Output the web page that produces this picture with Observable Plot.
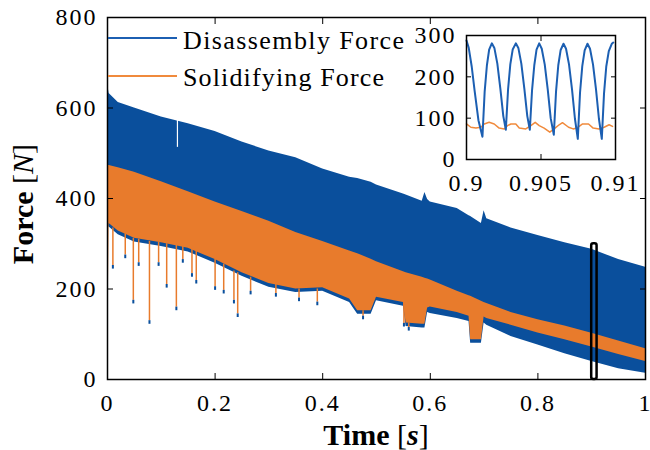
<!DOCTYPE html>
<html><head><meta charset="utf-8">
<script src="https://cdn.jsdelivr.net/npm/d3@7"></script>
<script src="https://cdn.jsdelivr.net/npm/@observablehq/plot@0.6"></script>
<style>
body{margin:0;background:#fff}
#wrap{position:relative;width:650px;height:450px;overflow:hidden}
#wrap > svg{position:absolute}
</style></head><body><div id="wrap"></div>
<script>
// ---------- main chart data ----------
const time     = [0, 0.003, 0.02, 0.05, 0.1, 0.15, 0.2, 0.25, 0.3, 0.35, 0.4, 0.45, 0.465, 0.49, 0.5, 0.55, 0.555, 0.585, 0.59, 0.595, 0.6, 0.65, 0.672, 0.675, 0.695, 0.7, 0.705, 0.75, 0.8, 0.85, 0.9, 0.95, 1.0];
const blueHi   = [655, 632, 612, 600, 580, 565, 548, 525, 505, 490, 465, 447, 444, 436, 430, 410, 408, 394, 413, 398, 392, 378, 362, 360, 345, 373, 355, 335, 318, 302, 288, 265, 248];
const blueLo   = [337, 337, 320, 304, 294, 282, 257, 228, 204, 192, 195, 170, 144, 144, 174, 162, 117, 114, 114, 148, 146, 135, 128, 80, 80, 125, 120, 95, 76, 57, 40, 24, 14];
const orangeHi = [473, 473, 468, 458, 437, 415, 392, 371, 350, 325, 305, 284, 278, 266, 260, 238, 236, 226, 224, 222, 220, 195, 185, 184, 173, 170, 168, 148, 132, 118, 102, 85, 68];
const orangeLo = [0, 345, 328, 312, 302, 290, 265, 236, 212, 200, 203, 178, 152, 152, 182, 170, 125, 122, 122, 158, 160, 148, 140, 88, 88, 138, 135, 120, 103, 88, 72, 55, 40];

// downward spikes of the solidifying force
const spikeT   = [0.010, 0.033, 0.048, 0.058, 0.078, 0.095, 0.110, 0.128, 0.140, 0.157, 0.165, 0.200, 0.216, 0.235, 0.242, 0.266, 0.313, 0.356, 0.390, 0.475, 0.551, 0.560];
const spikeTop = [335, 322, 312, 310, 305, 303, 300, 298, 295, 290, 288, 265, 255, 240, 236, 226, 210, 200, 200, 152, 170, 125];
const spikeTip = [252, 275, 175, 258, 130, 258, 210, 160, 265, 234, 219, 205, 197, 175, 145, 195, 190, 180, 171, 140, 124, 115];

// dip in the disassembly force top edge
const gapT = [0.130], gapLo = [513], gapHi = [600];

// zoom window marker
const zoomT0 = 0.9, zoomT1 = 0.91, zoomF0 = 0, zoomF1 = 300;

const xTicks = [0, 0.2, 0.4, 0.6, 0.8, 1];
const yTicks = [0, 200, 400, 600, 800];

// ---------- inset data ----------
const insetBlueT = [0.9, 0.90015, 0.90035, 0.90055, 0.9008, 0.90107,
  0.90122, 0.90137, 0.90152, 0.9017, 0.90187, 0.90207, 0.90227, 0.90247, 0.90264,
  0.90279, 0.90294, 0.9031, 0.90331, 0.90348, 0.90368, 0.90388, 0.90408, 0.90425,
  0.9044, 0.90455, 0.9047, 0.90488, 0.90505, 0.90525, 0.90545, 0.90565, 0.90586,
  0.90601, 0.90616, 0.90632, 0.90651, 0.90668, 0.90688, 0.90708, 0.90728, 0.90747,
  0.90762, 0.90777, 0.90793, 0.90812, 0.90829, 0.90849, 0.90869, 0.90889, 0.90908,
  0.90923, 0.90938, 0.90955, 0.90975, 0.90985];
const insetBlueF = [288, 270, 225, 165, 95, 55,
  165, 228, 266, 281, 270, 232, 172, 105, 72,
  170, 230, 266, 281, 270, 232, 172, 105, 72,
  168, 228, 266, 281, 268, 230, 170, 100, 60,
  165, 228, 265, 280, 268, 230, 170, 98, 50,
  162, 226, 264, 280, 268, 230, 170, 98, 50,
  160, 225, 262, 280, 283];
const insetOrangeT = [0.9, 0.90029, 0.90063, 0.90096, 0.90119, 0.90152, 0.90186, 0.90219, 0.90253, 0.90275, 0.90298, 0.90331, 0.90354, 0.90398, 0.90432, 0.90461, 0.90488, 0.90521, 0.90559, 0.90588, 0.90622, 0.90644, 0.90685, 0.90716, 0.90745, 0.90779, 0.90819, 0.9085, 0.9089, 0.90924, 0.90957, 0.9098];
const insetOrangeF = [86, 78, 76, 78, 86, 90, 86, 76, 74, 82, 86, 86, 76, 74, 82, 90, 82, 76, 66, 74, 84, 89, 78, 74, 77, 86, 86, 76, 74, 78, 84, 80];
const insetXTicks = [0.9, 0.905, 0.91];
const insetYTicks = [0, 100, 200, 300];

// ---------- styling ----------
const BLUE = "#0a4f9c", ORANGE = "#e87b2c";
const BLUE_L = "#1c5fb2", ORANGE_L = "#f08a3c";
const FONT = "'Liberation Serif', 'DejaVu Serif', serif";
const ax = {fontFamily: FONT, fontSize: 24, label: null};

const rows = time.map((t, i) => ({t, blueHi: blueHi[i], blueLo: blueLo[i], orangeHi: orangeHi[i], orangeLo: orangeLo[i]}));
const spikes = spikeT.map((t, i) => ({t, top: spikeTop[i], tip: spikeTip[i]}));
const gaps = gapT.map((t, i) => ({t, lo: gapLo[i], hi: gapHi[i]}));
const zoomBox = [{x1: zoomT0, x2: zoomT1, y1: zoomF0, y2: zoomF1}];
const fmt = d => String(d);

const main = Plot.plot({
  width: 650, height: 450,
  marginLeft: 107, marginRight: 5, marginTop: 17, marginBottom: 71,
  x: {domain: [0, 1]},
  y: {domain: [0, 800]},
  style: {fontFamily: FONT, fontSize: "24px", color: "#000", background: "transparent", overflow: "visible"},
  marks: [
    Plot.areaY(rows, {x: "t", y1: "blueLo", y2: "blueHi", fill: BLUE}),
    Plot.ruleX(gaps, {x: "t", y1: "lo", y2: "hi", stroke: "white", strokeWidth: 1.2}),
    Plot.areaY(rows, {x: "t", y1: "orangeLo", y2: "orangeHi", fill: ORANGE}),
    Plot.ruleX(spikes, {x: "t", y1: "tip", y2: "top", stroke: ORANGE, strokeWidth: 1.5}),
    Plot.ruleX(spikes, {x: "t", y1: d => d.tip - 8, y2: "tip", stroke: BLUE, strokeWidth: 2}),
    Plot.rect(zoomBox, {x1: "x1", x2: "x2", y1: "y1", y2: "y2", fill: "none", stroke: "black", strokeWidth: 2.5, rx: 2}),
    Plot.frame({stroke: "black", strokeWidth: 1.5}),
    Plot.axisX(xTicks, {...ax, anchor: "bottom", tickSize: -6, tickPadding: 20, tickFormat: fmt}),
    Plot.axisX(xTicks, {...ax, anchor: "top", tickSize: -6, tickFormat: () => ""}),
    Plot.axisY(yTicks, {...ax, anchor: "left", tickSize: -6, tickPadding: 16, tickFormat: fmt}),
    Plot.axisY(yTicks, {...ax, anchor: "right", tickSize: -6, tickFormat: () => ""})
  ]
});
main.style.left = "0px"; main.style.top = "0px";

const inset = Plot.plot({
  width: 214, height: 174,
  marginLeft: 60, marginRight: 5, marginTop: 10, marginBottom: 40,
  x: {domain: [0.9, 0.91]},
  y: {domain: [0, 300]},
  style: {fontFamily: FONT, fontSize: "24px", color: "#000", background: "transparent", overflow: "visible"},
  marks: [
    Plot.frame({fill: "white"}),
    Plot.line(insetOrangeT.map((t, i) => ({t, f: insetOrangeF[i]})), {x: "t", y: "f", stroke: ORANGE_L, strokeWidth: 1.5}),
    Plot.line(insetBlueT.map((t, i) => ({t, f: insetBlueF[i]})), {x: "t", y: "f", stroke: BLUE_L, strokeWidth: 2}),
    Plot.frame({stroke: "black", strokeWidth: 1.5}),
    Plot.axisX(insetXTicks, {...ax, anchor: "bottom", tickSize: -5, tickPadding: 19, tickFormat: fmt}),
    Plot.axisX(insetXTicks, {...ax, anchor: "top", tickSize: -5, tickFormat: () => ""}),
    Plot.axisY(insetYTicks, {...ax, anchor: "left", tickSize: -5, tickPadding: 15, tickFormat: fmt}),
    Plot.axisY(insetYTicks, {...ax, anchor: "right", tickSize: -5, tickFormat: () => ""})
  ]
});
inset.style.left = "406px"; inset.style.top = "25px";

[main, inset].forEach(svg => d3.select(svg).selectAll("text")
  .style("font-family", FONT).style("font-size", "24px").style("letter-spacing", "2px"));

const wrap = document.getElementById("wrap");
wrap.appendChild(main);
wrap.appendChild(inset);

// ---------- legend and axis titles ----------
const over = d3.create("svg").attr("id", "over").attr("width", 650).attr("height", 450)
  .style("position", "absolute").style("left", "0px").style("top", "0px")
  .style("font-family", FONT);
const legend = [{name: "Disassembly Force", color: BLUE_L, y: 38, base: 49, len: 221}, {name: "Solidifying Force", color: ORANGE_L, y: 76, base: 86, len: 201}];
legend.forEach(l => {
  over.append("line").attr("x1", 108).attr("x2", 177).attr("y1", l.y).attr("y2", l.y).attr("stroke", l.color).attr("stroke-width", 2);
  over.append("text").attr("x", 183).attr("y", l.base).attr("font-size", 26).attr("textLength", l.len).text(l.name);
});
const tx = over.append("text").attr("x", 376).attr("y", 445).attr("text-anchor", "middle").attr("font-size", 30);
tx.append("tspan").attr("font-weight", "bold").text("Time ");
tx.append("tspan").text("[");
tx.append("tspan").attr("font-style", "italic").attr("font-weight", "bold").text("s");
tx.append("tspan").text("]");
const ty = over.append("text").attr("transform", "translate(33,204) rotate(-90)").attr("text-anchor", "middle").attr("font-size", 30);
ty.append("tspan").attr("font-weight", "bold").text("Force ");
ty.append("tspan").text("[");
ty.append("tspan").attr("font-style", "italic").text("N");
ty.append("tspan").text("]");
wrap.appendChild(over.node());
</script>
</body></html>
